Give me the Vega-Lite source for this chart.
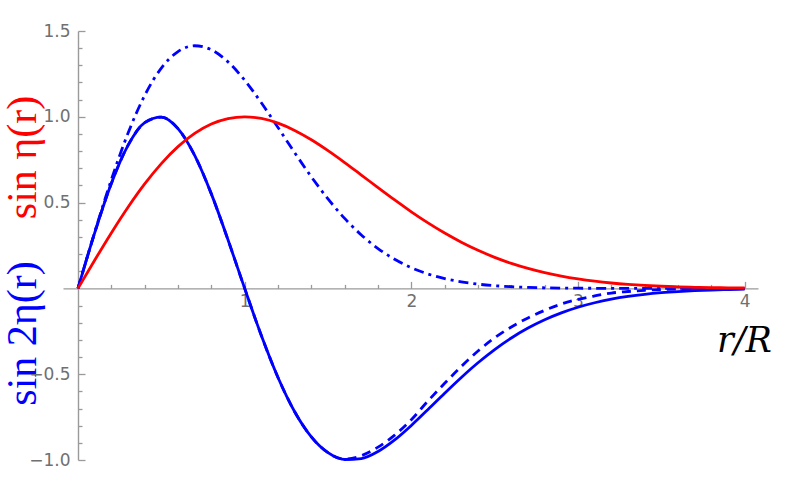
{
  "$schema": "https://vega.github.io/schema/vega-lite/v6.json",
  "width": 695,
  "height": 429,
  "autosize": {"type": "none"},
  "padding": {"left": 63, "top": 31, "right": 30, "bottom": 31},
  "background": "white",
  "config": {
    "view": {"stroke": null},
    "axis": {
      "grid": false,
      "domainColor": "#9a9a9a",
      "tickColor": "#9a9a9a",
      "labelColor": "#707070",
      "labelFont": "DejaVu Sans",
      "labelFontSize": 17,
      "domainWidth": 1.4,
      "tickWidth": 1.3,
      "labelFlush": false
    }
  },
  "data": {
    "values": [
      {"r": 0.0, "a": 0.0, "b": 0.0, "c": 0.0, "d": 0.0},
      {"r": 0.1, "a": 0.1641, "b": 0.3237, "c": 0.3237, "d": 0.3265},
      {"r": 0.2, "a": 0.3232, "b": 0.6117, "c": 0.6117, "d": 0.6336},
      {"r": 0.3, "a": 0.4729, "b": 0.8333, "c": 0.8333, "d": 0.9041},
      {"r": 0.4, "a": 0.6088, "b": 0.9659, "c": 0.9659, "d": 1.124},
      {"r": 0.5, "a": 0.7275, "b": 0.9983, "c": 0.9983, "d": 1.284},
      {"r": 0.6, "a": 0.8263, "b": 0.9308, "c": 0.9308, "d": 1.3803},
      {"r": 0.7, "a": 0.9033, "b": 0.775, "c": 0.775, "d": 1.4141},
      {"r": 0.8, "a": 0.9578, "b": 0.5508, "c": 0.5508, "d": 1.391},
      {"r": 0.9, "a": 0.9897, "b": 0.2835, "c": 0.2835, "d": 1.3202},
      {"r": 1.0, "a": 1.0, "b": 0.0, "c": 0.0, "d": 1.2131},
      {"r": 1.1, "a": 0.9904, "b": -0.2745, "c": -0.2745, "d": 1.0816},
      {"r": 1.2, "a": 0.963, "b": -0.5189, "c": -0.5189, "d": 0.9375},
      {"r": 1.3, "a": 0.9207, "b": -0.7187, "c": -0.7187, "d": 0.791},
      {"r": 1.4, "a": 0.8663, "b": -0.8655, "c": -0.8655, "d": 0.6503},
      {"r": 1.5, "a": 0.8029, "b": -0.9573, "c": -0.9573, "d": 0.5213},
      {"r": 1.6, "a": 0.7335, "b": -0.9971, "c": -0.995, "d": 0.4078},
      {"r": 1.7, "a": 0.6608, "b": -0.9919, "c": -0.975, "d": 0.3116},
      {"r": 1.8, "a": 0.5873, "b": -0.9507, "c": -0.925, "d": 0.2324},
      {"r": 1.9, "a": 0.5152, "b": -0.8832, "c": -0.855, "d": 0.1695},
      {"r": 2.0, "a": 0.4463, "b": -0.7987, "c": -0.765, "d": 0.1208},
      {"r": 2.1, "a": 0.3817, "b": -0.7056, "c": -0.656, "d": 0.0842},
      {"r": 2.2, "a": 0.3225, "b": -0.6106, "c": -0.553, "d": 0.0574},
      {"r": 2.3, "a": 0.2693, "b": -0.5187, "c": -0.455, "d": 0.0382},
      {"r": 2.4, "a": 0.2221, "b": -0.4332, "c": -0.365, "d": 0.0249},
      {"r": 2.5, "a": 0.1811, "b": -0.3562, "c": -0.288, "d": 0.0159},
      {"r": 2.6, "a": 0.1459, "b": -0.2888, "c": -0.225, "d": 0.01},
      {"r": 2.7, "a": 0.1163, "b": -0.231, "c": -0.172, "d": 0.0061},
      {"r": 2.8, "a": 0.0916, "b": -0.1824, "c": -0.128, "d": 0.0036},
      {"r": 2.9, "a": 0.0713, "b": -0.1423, "c": -0.091, "d": 0.0021},
      {"r": 3.0, "a": 0.055, "b": -0.1097, "c": -0.064, "d": 0.0012},
      {"r": 3.1, "a": 0.0419, "b": -0.0836, "c": -0.044, "d": 0.0007},
      {"r": 3.2, "a": 0.0315, "b": -0.063, "c": -0.027, "d": 0.0004},
      {"r": 3.3, "a": 0.0235, "b": -0.047, "c": -0.018, "d": 0.0002},
      {"r": 3.4, "a": 0.0173, "b": -0.0346, "c": -0.011, "d": 0.0001},
      {"r": 3.5, "a": 0.0126, "b": -0.0252, "c": -0.007, "d": 0.0001},
      {"r": 3.6, "a": 0.0091, "b": -0.0182, "c": -0.004, "d": 0.0},
      {"r": 3.7, "a": 0.0065, "b": -0.013, "c": -0.003, "d": 0.0},
      {"r": 3.8, "a": 0.0046, "b": -0.0092, "c": -0.002, "d": 0.0},
      {"r": 3.9, "a": 0.0032, "b": -0.0064, "c": -0.001, "d": 0.0},
      {"r": 4.0, "a": 0.0022, "b": -0.0044, "c": -0.001, "d": 0.0}
    ]
  },
  "layer": [
    {
      "mark": {"type": "line", "color": "#0000ff", "strokeWidth": 2.8, "interpolate": "monotone"},
      "encoding": {
        "x": {
          "field": "r", "type": "quantitative",
          "scale": {"domain": [-0.09, 4.08], "nice": false, "zero": false},
          "axis": {
            "orient": "bottom", "offset": -171.6,
            "values": [0.2, 0.4, 0.6, 0.8, 1.2, 1.4, 1.6, 1.8, 2.2, 2.4, 2.6, 2.8, 3.2, 3.4, 3.6, 3.8],
            "tickSize": -4, "labels": false, "domain": false, "title": null
          }
        },
        "y": {
          "field": "b", "type": "quantitative",
          "scale": {"domain": [-1, 1.5], "nice": false, "zero": false},
          "axis": {
            "orient": "left", "offset": -15,
            "values": [-0.9, -0.8, -0.7, -0.6, -0.4, -0.3, -0.2, -0.1, 0.1, 0.2, 0.3, 0.4, 0.6, 0.7, 0.8, 0.9, 1.1, 1.2, 1.3, 1.4],
            "tickSize": -4, "labels": false, "domain": false,
            "title": "sin 2η(r)", "titleColor": "#0000ff", "titleFont": "Liberation Serif",
            "titleFontSize": 42, "titleFontWeight": "normal", "titleAngle": 270,
            "titleX": -56, "titleY": 302, "titleAlign": "center", "titleBaseline": "middle"
          }
        }
      }
    },
    {
      "mark": {"type": "line", "color": "#0000ff", "strokeWidth": 2.8, "interpolate": "monotone", "strokeDash": [9, 6]},
      "encoding": {
        "x": {"field": "r", "type": "quantitative", "axis": null},
        "y": {"field": "c", "type": "quantitative", "axis": null}
      }
    },
    {
      "mark": {"type": "line", "color": "#0000ff", "strokeWidth": 2.8, "interpolate": "monotone", "strokeDash": [10, 5, 3, 5]},
      "encoding": {
        "x": {"field": "r", "type": "quantitative", "axis": null},
        "y": {"field": "d", "type": "quantitative", "axis": null}
      }
    },
    {
      "mark": {"type": "line", "color": "#ff0000", "strokeWidth": 2.8, "interpolate": "monotone"},
      "encoding": {
        "x": {
          "field": "r", "type": "quantitative",
          "axis": {
            "orient": "bottom", "offset": -171.6,
            "values": [1, 2, 3, 4], "format": "d",
            "tickSize": -7, "labelPadding": 12,
            "title": "r/R", "titleFont": "DejaVu Serif", "titleFontStyle": "italic",
            "titleFontWeight": "normal", "titleFontSize": 35, "titleColor": "#000000",
            "titleX": 681, "titleY": 63, "titleAlign": "center", "titleBaseline": "alphabetic"
          }
        },
        "y": {
          "field": "a", "type": "quantitative",
          "axis": {
            "orient": "left", "offset": -15,
            "values": [-1, -0.5, 0.5, 1, 1.5], "format": ".1f",
            "tickSize": -7, "labelPadding": 15,
            "title": "sin η(r)", "titleColor": "#ff0000", "titleFont": "Liberation Serif",
            "titleFontSize": 42, "titleFontWeight": "normal", "titleAngle": 270,
            "titleX": -56, "titleY": 126, "titleAlign": "center", "titleBaseline": "middle"
          }
        }
      }
    }
  ],
  "resolve": {"axis": {"x": "independent", "y": "independent"}}
}
